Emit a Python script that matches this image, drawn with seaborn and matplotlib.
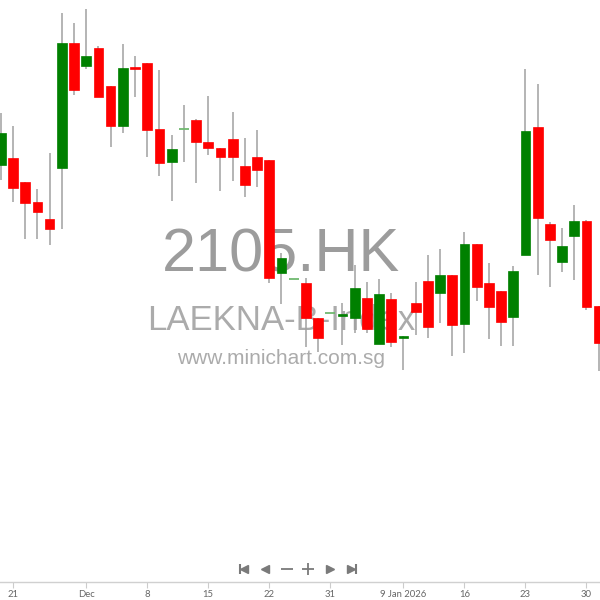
import numpy as np
import pandas as pd
import matplotlib
matplotlib.use("Agg")
import matplotlib.pyplot as plt
import seaborn as sns

# daily candles, 2105.HK (LAEKNA-B)
dates = ["2025-11-20", "2025-11-21", "2025-11-24", "2025-11-25", "2025-11-26", "2025-11-27", "2025-11-28",
         "2025-12-01", "2025-12-02", "2025-12-03", "2025-12-04", "2025-12-05",
         "2025-12-08", "2025-12-09", "2025-12-10", "2025-12-11", "2025-12-12",
         "2025-12-15", "2025-12-16", "2025-12-17", "2025-12-18", "2025-12-19",
         "2025-12-22", "2025-12-23", "2025-12-24", "2025-12-29", "2025-12-30", "2025-12-31",
         "2026-01-02", "2026-01-05", "2026-01-06", "2026-01-07", "2026-01-08", "2026-01-09",
         "2026-01-12", "2026-01-13", "2026-01-14", "2026-01-15", "2026-01-16",
         "2026-01-19", "2026-01-20", "2026-01-21", "2026-01-22", "2026-01-23",
         "2026-01-26", "2026-01-27", "2026-01-28", "2026-01-29", "2026-01-30", "2026-02-02"]
opens = [11.88, 12.05, 11.45, 10.95, 10.53, 11.80, 14.93,
         14.35, 14.80, 13.85, 12.85, 14.31,
         14.43, 12.78, 11.95, 12.78, 13.00,
         12.45, 12.30, 12.53, 11.85, 12.08,
         12.00, 9.18, 9.03, 8.93, 8.05, 8.18,
         8.09, 8.05, 8.55, 7.40, 8.53, 7.56,
         8.43, 8.98, 8.68, 9.13, 7.90,
         9.90, 8.93, 8.73, 8.08, 9.63,
         12.83, 10.40, 9.45, 10.10, 10.48, 8.35]
closes = [12.68, 11.30, 10.93, 10.70, 10.28, 14.93, 13.75,
          14.60, 13.58, 12.85, 14.30, 14.28,
          12.75, 11.93, 12.28, 12.78, 12.45,
          12.30, 12.08, 12.08, 11.38, 11.75,
          9.05, 9.55, 9.03, 8.05, 7.55, 8.18,
          8.11, 8.80, 7.78, 8.65, 7.45, 7.59,
          8.20, 7.83, 9.13, 7.88, 9.90,
          8.83, 8.33, 7.95, 9.23, 12.73,
          10.55, 10.00, 9.85, 10.48, 8.33, 7.43]
highs = [13.18, 12.85, 11.45, 11.28, 12.18, 15.68, 15.43,
         15.78, 14.85, 13.85, 14.90, 14.60,
         14.43, 14.25, 12.63, 13.38, 13.03,
         13.60, 12.30, 13.20, 12.55, 12.75,
         12.00, 9.68, 9.03, 9.05, 8.05, 8.18,
         8.43, 9.38, 8.95, 9.03, 8.68, 7.59,
         8.95, 9.63, 9.78, 9.13, 10.20,
         9.90, 9.43, 8.73, 9.35, 14.28,
         13.90, 10.45, 10.30, 10.88, 10.50, 8.35]
lows = [11.50, 10.95, 10.03, 10.03, 9.88, 10.28, 13.63,
        14.28, 13.58, 12.33, 12.68, 13.58,
        12.08, 11.60, 10.98, 11.95, 11.43,
        12.13, 11.23, 11.48, 11.08, 11.33,
        8.93, 8.40, 9.03, 7.33, 7.20, 8.18,
        7.38, 7.68, 7.68, 7.40, 7.33, 6.75,
        7.63, 7.55, 7.93, 7.10, 7.18,
        8.48, 7.53, 7.35, 7.35, 9.63,
        9.13, 8.83, 9.20, 9.00, 8.25, 6.73]

tick_dates = ["2025-11-21", "2025-12-01", "2025-12-08", "2025-12-15", "2025-12-22",
              "2025-12-31", "2026-01-09", "2026-01-16", "2026-01-23", "2026-01-30"]
tick_labels = ["21", "Dec", "8", "15", "22", "31", "9 Jan 2026", "16", "23", "30"]

df = pd.DataFrame({"date": dates, "open": opens, "high": highs, "low": lows, "close": closes})
df["x"] = np.arange(len(df))
df["dir"] = np.sign(df["close"] - df["open"])

sns.set_theme(style="white")
plt.rcParams['font.family'] = ['Liberation Sans', 'DejaVu Sans']

fig = plt.figure(figsize=(6, 6), dpi=100)
ax = fig.add_axes([0, 0.03, 1, 0.97])

# wicks
ax.vlines(df["x"], df["low"], df["high"], color="#a0a0a0", linewidth=1.1, zorder=2)

# bodies
up = "#008000"
down = "#ff0000"
flat = "#6fb96f"
body = df[df["dir"] != 0]
colors = [up if d > 0 else down for d in body["dir"]]
heights = np.maximum((body["close"] - body["open"]).abs(), 0.05)
bottoms = np.minimum(body["open"], body["close"])
ax.bar(body["x"], heights, bottom=bottoms, width=0.8, color=colors,
       edgecolor=colors, linewidth=0.5, zorder=3)
fl = df[df["dir"] == 0]
ax.hlines(fl["close"], fl["x"] - 0.4, fl["x"] + 0.4, color=flat, linewidth=1.3, zorder=3)

# watermark behind the candles
wm = dict(transform=ax.transAxes, ha="center", va="baseline", zorder=1)
ax.text(0.469, 0.533, "2105.HK", fontsize=44, color="#9c9c9c", **wm)
ax.text(0.468, 0.433, "LAEKNA-B-Index", fontsize=25, color="#ababab", **wm)
ax.text(0.468, 0.375, "www.minichart.com.sg", fontsize=15, color="#ababab", **wm)

# navigation buttons
nav = dict(transform=ax.transAxes, clip_on=False, color="#7a7a7a", linestyle="none", zorder=5)
ny = 0.0225
ax.plot([239.5 / 600], [ny], marker="|", markersize=7, markeredgewidth=1.5, **nav)
ax.plot([244.5 / 600], [ny], marker="<", markersize=6, **nav)
ax.plot([265 / 600], [ny], marker="<", markersize=6, **nav)
ax.plot([286.5 / 600], [ny], marker="_", markersize=8, markeredgewidth=1.3, **nav)
ax.plot([308 / 600], [ny], marker="+", markersize=8, markeredgewidth=1.3, **nav)
ax.plot([330 / 600], [ny], marker=">", markersize=6, **nav)
ax.plot([351 / 600], [ny], marker=">", markersize=6, **nav)
ax.plot([356 / 600], [ny], marker="|", markersize=7, markeredgewidth=1.5, **nav)

ax.set_xlim(-0.066, 49.11)
ax.set_ylim(1.45, 16.0)

pos = [dates.index(d) for d in tick_dates]
ax.set_xticks(pos)
ax.set_xticklabels(tick_labels, fontsize=6.8, color="#666666", family=["Lato", "DejaVu Sans"])
ax.tick_params(axis="x", bottom=True, length=4, width=0.8, color="#cccccc", pad=2)
ax.set_yticks([])
for s in ["top", "left", "right"]:
    ax.spines[s].set_visible(False)
ax.spines["bottom"].set_color("#d0d0d0")
ax.spines["bottom"].set_linewidth(1)
ax.set_xlabel("")
ax.set_ylabel("")

fig.savefig("out.png", dpi=100)
